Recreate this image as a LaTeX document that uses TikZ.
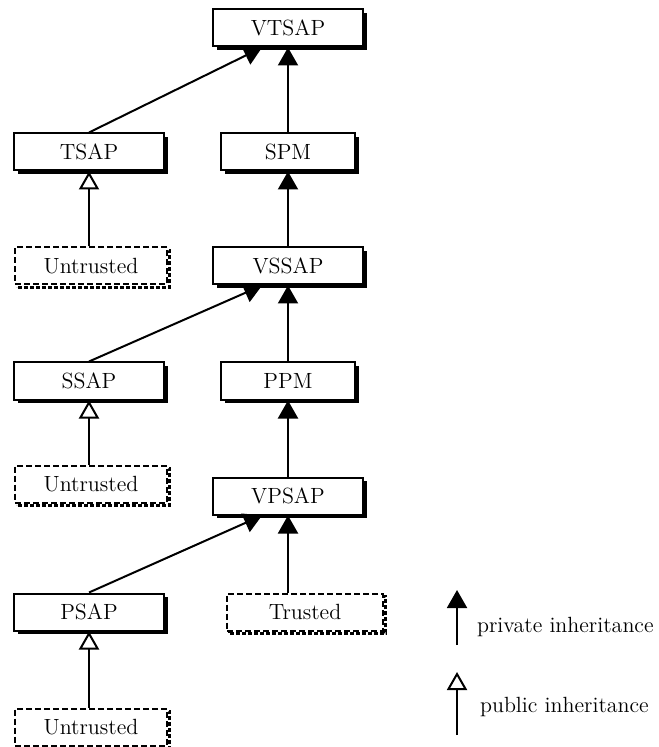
\documentclass[tikz,border=0pt]{standalone}
\usepackage{tikz}
\usetikzlibrary{arrows.meta}
\usetikzlibrary{shadows}
\newcommand{\widthsap}{75pt}
\newcommand{\widthpm}{67pt}
\newcommand{\widthuser}{76pt}
\tikzset{
    common/.style={draw, rectangle, line width=1pt, fill=white, minimum height=18.5pt, inner sep=2pt, font=\fontsize{11}{13}\selectfont},
    sap/.style={common, minimum width=\widthsap, general shadow={fill=black, shadow xshift=1.8pt, shadow yshift=-1.8pt}},
    pm/.style={sap, minimum width=\widthpm},
    user/.style={common, minimum width=\widthuser, dash pattern=on 3pt off 1.5pt,
        general shadow={draw, line width=1.4pt, dash pattern=on 2pt off 1pt, shadow xshift=1.4pt, shadow yshift=-1.4pt}},
    private/.style={line width=1pt, -{Triangle[width=10pt,length=9pt]}},
    public/.style={line width=1pt, -{Triangle[open,width=10pt,length=9pt]}},
    legend/.style={anchor=west, font=\fontsize{11}{13}\selectfont}
}

\begin{document}
\begin{tikzpicture}[x=0.5pt, y=-0.5pt]
    \useasboundingbox (0,0) rectangle (658,747);

    % right column
    \node[sap] (VTSAP) at (288,28) {VTSAP};
    \node[pm] (SPM) at (288,152) {SPM};
    \node[sap] (VSSAP) at (288,266) {VSSAP};
    \node[pm] (PPM) at (288,381) {PPM};
    \node[sap] (VPSAP) at (288,496) {VPSAP};
    \node[user, minimum width=78pt] (Trusted) at (305,612) {Trusted};

    % left column
    \node[sap] (TSAP) at (89,152) {TSAP};
    \node[user] (UntrustedT) at (91,266) {Untrusted};
    \node[sap] (SSAP) at (89,381) {SSAP};
    \node[user] (UntrustedS) at (91,484) {Untrusted};
    \node[sap] (PSAP) at (89,612) {PSAP};
    \node[user] (UntrustedP) at (91,727) {Untrusted};

    \draw[private] (SPM) -- (VTSAP);
    \draw[private] (TSAP.north) -- ([xshift=-13pt]VTSAP.south);
    \draw[public] (UntrustedT.north -| TSAP) -- (TSAP.south);
    \draw[private] (VSSAP) -- (SPM);
    \draw[private] (PPM) -- (VSSAP);
    \draw[private] (SSAP.north) -- ([xshift=-13pt]VSSAP.south);
    \draw[public] (UntrustedS.north -| SSAP) -- (SSAP.south);
    \draw[private] (VPSAP) -- (PPM);
    \draw[private] (PSAP.north) -- ([xshift=-13pt]VPSAP.south);
    \draw[private] (Trusted.north -| VPSAP) -- (VPSAP.south);
    \draw[public] (UntrustedP.north -| PSAP) -- (PSAP.south);

    % legend
    \coordinate (privfoot) at (457,645);
    \coordinate (privhead) at (457,590);
    \coordinate (pubfoot) at (457,735);
    \coordinate (pubhead) at (457,672);
    \draw[private] (privfoot) -- (privhead);
    \draw[public] (pubfoot) -- (pubhead);
    \node[legend] (privtext) at (470,627) {private inheritance};
    \node[legend] (pubtext) at (473,707) {public inheritance};
\end{tikzpicture}
\end{document}
